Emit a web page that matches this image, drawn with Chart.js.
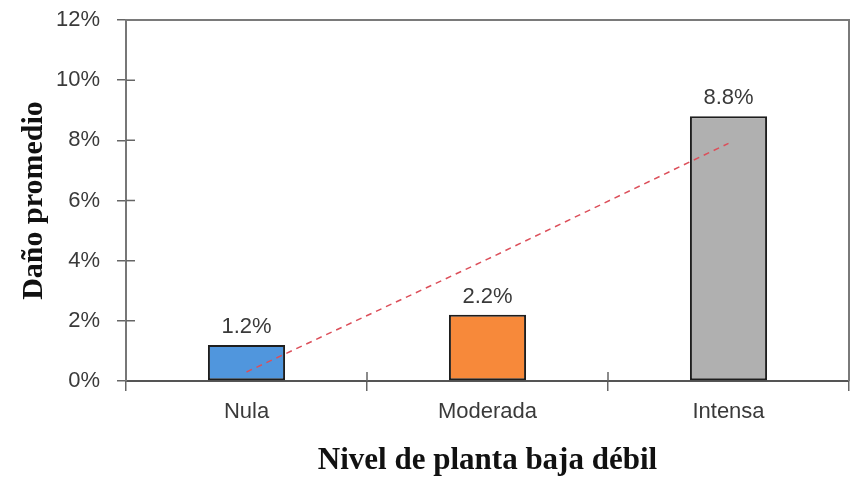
<!DOCTYPE html>
<html>
<head>
<meta charset="utf-8">
<script src="https://cdn.jsdelivr.net/npm/chart.js@4/dist/chart.umd.min.js"></script>
<style>
html,body{margin:0;padding:0;background:#fff;}
#wrap{width:857px;height:477px;}
</style>
</head>
<body>
<div id="wrap"><canvas id="c" width="857" height="477"></canvas></div>
<script>
const categories = ["Nula", "Moderada", "Intensa"];
const damageValues = [1.2, 2.2, 8.8];
const valueLabels = ["1.2%", "2.2%", "8.8%"];
const trendValues = [0.3, 4.05, 7.9];
const barColors = ["#5096dd", "#f7893a", "#b0b0b0"];
const yTicks = [0, 2, 4, 6, 8, 10, 12];

const sans = '"Liberation Sans Narrow", "Arial Narrow", "Liberation Sans", Arial, sans-serif';
const serif = '"Liberation Serif", "Times New Roman", serif';

const framePlugin = {
  id: 'frame',
  afterDatasetsDraw(chart) {
    const {ctx, chartArea: a, scales} = chart;
    ctx.save();
    ctx.strokeStyle = '#7a7a7a';
    ctx.lineWidth = 2;
    ctx.beginPath();
    ctx.moveTo(a.left, a.top);
    ctx.lineTo(a.right, a.top);
    ctx.lineTo(a.right, a.bottom);
    ctx.stroke();
    ctx.strokeStyle = '#666';
    ctx.lineWidth = 1.5;
    ctx.beginPath();
    yTicks.forEach(v => {
      if (v === 0 || v === 12) return;
      const y = scales.y.getPixelForValue(v);
      ctx.moveTo(a.left, y); ctx.lineTo(a.left + 9, y);
    });
    for (let i = 1; i < categories.length; i++) {
      const x = (scales.x.getPixelForValue(i - 1) + scales.x.getPixelForValue(i)) / 2;
      ctx.moveTo(x, a.bottom); ctx.lineTo(x, a.bottom - 9);
    }
    ctx.stroke();
    ctx.fillStyle = '#3a3a3a';
    ctx.font = '22px ' + sans;
    ctx.textAlign = 'center';
    ctx.textBaseline = 'bottom';
    const meta = chart.getDatasetMeta(1);
    meta.data.forEach((bar, i) => {
      ctx.fillText(valueLabels[i], bar.x, bar.y - 7);
    });
    ctx.restore();
  }
};

new Chart(document.getElementById('c'), {
  type: 'bar',
  data: {
    labels: categories,
    datasets: [
      {
        type: 'line',
        data: trendValues,
        borderColor: '#dc4f5a',
        borderWidth: 1.5,
        borderDash: [6, 5],
        pointRadius: 0,
        fill: false,
        order: 1
      },
      {
        type: 'bar',
        data: damageValues,
        backgroundColor: barColors,
        borderColor: '#1e1e1e',
        borderWidth: 2,
        borderSkipped: false,
        categoryPercentage: 1,
        barPercentage: 0.32,
        order: 2
      }
    ]
  },
  options: {
    responsive: false,
    animation: false,
    devicePixelRatio: 1,
    layout: {padding: {left: 0, top: 20, right: 8, bottom: 0}},
    plugins: {legend: {display: false}, tooltip: {enabled: false}},
    scales: {
      x: {
        offset: true,
        grid: {offset: true, drawOnChartArea: false, drawTicks: true, tickLength: 10, color: '#666', lineWidth: 1.5},
        border: {color: '#555', width: 2},
        ticks: {color: '#3a3a3a', font: {family: sans, size: 22}, padding: 8},
        title: {display: true, text: 'Nivel de planta baja débil', color: '#111', font: {family: serif, size: 31, weight: 'bold', lineHeight: 1.0}, padding: {top: 0, bottom: 1}},
        afterFit(s) { s.height = 96; s.paddingLeft = 0; s.paddingRight = 0; }
      },
      y: {
        min: 0, max: 12,
        grid: {drawOnChartArea: false, drawTicks: true, tickLength: 9, color: '#666', lineWidth: 1.5},
        border: {color: '#777', width: 2},
        ticks: {stepSize: 2, color: '#3a3a3a', font: {family: sans, size: 22}, padding: 17, callback: v => v + '%'},
        title: {display: true, text: 'Daño promedio', color: '#111', font: {family: serif, size: 30, weight: 'bold'}, padding: {top: 16, bottom: 0}},
        afterFit(s) { s.width = 126; s.paddingTop = 0; s.paddingBottom = 0; }
      }
    }
  },
  plugins: [framePlugin]
});
</script>
</body>
</html>
